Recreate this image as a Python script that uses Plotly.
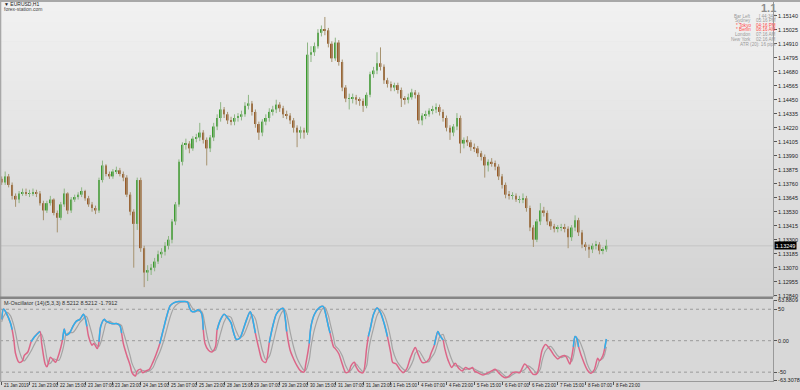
import plotly.graph_objects as go

# ---------------- data (2-hour bars, EURUSD H1 chart) ----------------
first_open = 1.1380
closes = [
1.1377,1.1382,1.1375,1.1366,1.1363,1.1368,1.1369,1.1368,1.1368,1.1369,
1.1368,1.1360,1.1354,1.1360,1.1363,1.1352,1.1348,1.1359,1.1368,1.1354,
1.1363,1.1365,1.1367,1.1370,1.1364,1.1359,1.1356,1.1354,1.1379,1.1391,
1.1384,1.1382,1.1386,1.1387,1.1384,1.1381,1.1367,1.1353,1.1343,1.1379,
1.1323,1.1303,1.1305,1.1307,1.1312,1.1318,1.1320,1.1325,1.1330,1.1345,
1.1359,1.1394,1.1408,1.1409,1.1405,1.1413,1.1414,1.1418,1.1412,1.1405,
1.1414,1.1423,1.1430,1.1437,1.1433,1.1428,1.1427,1.1430,1.1431,1.1433,
1.1440,1.1442,1.1435,1.1425,1.1418,1.1427,1.1430,1.1435,1.1437,1.1441,
1.1438,1.1433,1.1432,1.1428,1.1422,1.1418,1.1420,1.1418,1.1482,1.1484,
1.1489,1.1500,1.1503,1.1502,1.1491,1.1479,1.1492,1.1476,1.1455,1.1446,
1.1446,1.1447,1.1445,1.1444,1.1440,1.1449,1.1466,1.1469,1.1475,1.1472,
1.1461,1.1458,1.1455,1.1457,1.1453,1.1446,1.1445,1.1447,1.1451,1.1449,
1.1428,1.1432,1.1433,1.1436,1.1437,1.1439,1.1435,1.1430,1.1422,1.1418,
1.1423,1.1430,1.1409,1.1412,1.1410,1.1406,1.1405,1.1401,1.1398,1.1391,
1.1394,1.1393,1.1390,1.1382,1.1375,1.1367,1.1366,1.1366,1.1363,1.1363,
1.1364,1.1356,1.1340,1.1330,1.1345,1.1354,1.1352,1.1345,1.1341,1.1339,
1.1340,1.1340,1.1339,1.1332,1.1340,1.1346,1.1336,1.1326,1.1324,1.1322,
1.1325,1.1326,1.1321,1.1322,1.1325]
highs = [
1.1382,1.1386,1.1384,1.1377,1.1368,1.1370,1.1372,1.1372,1.1371,1.1372,
1.1371,1.1370,1.1362,1.1362,1.1366,1.1364,1.1354,1.1361,1.1372,1.1369,
1.1365,1.1367,1.1369,1.1373,1.1371,1.1366,1.1361,1.1358,1.1381,1.1395,
1.1392,1.1386,1.1388,1.1390,1.1389,1.1386,1.1383,1.1369,1.1355,1.1381,
1.1381,1.1325,1.1309,1.1310,1.1315,1.1321,1.1323,1.1328,1.1333,1.1347,
1.1361,1.1396,1.1410,1.1413,1.1411,1.1415,1.1417,1.1426,1.1420,1.1414,
1.1416,1.1426,1.1433,1.1443,1.1439,1.1435,1.1431,1.1433,1.1434,1.1436,
1.1443,1.1449,1.1444,1.1437,1.1427,1.1429,1.1433,1.1438,1.1440,1.1445,
1.1443,1.1440,1.1436,1.1434,1.1430,1.1424,1.1423,1.1422,1.1492,1.1489,
1.1492,1.1503,1.1506,1.1513,1.1504,1.1493,1.1496,1.1494,1.1478,1.1457,
1.1450,1.1450,1.1449,1.1447,1.1446,1.1451,1.1468,1.1472,1.1484,1.1488,
1.1474,1.1463,1.1460,1.1459,1.1459,1.1455,1.1448,1.1450,1.1454,1.1453,
1.1451,1.1434,1.1436,1.1438,1.1440,1.1442,1.1441,1.1437,1.1432,1.1424,
1.1425,1.1434,1.1432,1.1414,1.1415,1.1412,1.1409,1.1407,1.1403,1.1400,
1.1396,1.1397,1.1395,1.1392,1.1384,1.1377,1.1370,1.1369,1.1368,1.1366,
1.1368,1.1366,1.1358,1.1342,1.1347,1.1360,1.1357,1.1354,1.1347,1.1343,
1.1342,1.1343,1.1343,1.1341,1.1342,1.1350,1.1348,1.1338,1.1328,1.1326,
1.1327,1.1329,1.1328,1.1324,1.1330]
lows = [
1.1375,1.1375,1.1373,1.1363,1.1357,1.1360,1.1366,1.1366,1.1365,1.1366,
1.1365,1.1358,1.1346,1.1352,1.1358,1.1350,1.1336,1.1346,1.1357,1.1351,
1.1352,1.1361,1.1363,1.1365,1.1362,1.1357,1.1353,1.1351,1.1352,1.1377,
1.1382,1.1380,1.1380,1.1384,1.1382,1.1378,1.1365,1.1350,1.1307,1.1338,
1.1320,1.1291,1.1296,1.1301,1.1304,1.1310,1.1315,1.1317,1.1322,1.1327,
1.1342,1.1357,1.1391,1.1404,1.1401,1.1403,1.1410,1.1411,1.1409,1.1391,
1.1402,1.1411,1.1420,1.1427,1.1430,1.1425,1.1424,1.1424,1.1427,1.1428,
1.1431,1.1437,1.1432,1.1422,1.1412,1.1415,1.1424,1.1427,1.1432,1.1434,
1.1435,1.1430,1.1429,1.1425,1.1418,1.1406,1.1413,1.1413,1.1416,1.1476,
1.1481,1.1487,1.1497,1.1498,1.1488,1.1476,1.1477,1.1473,1.1452,1.1443,
1.1437,1.1442,1.1441,1.1440,1.1435,1.1438,1.1447,1.1463,1.1466,1.1469,
1.1458,1.1455,1.1452,1.1452,1.1450,1.1439,1.1441,1.1442,1.1445,1.1446,
1.1425,1.1424,1.1429,1.1431,1.1433,1.1434,1.1432,1.1427,1.1419,1.1412,
1.1415,1.1420,1.1401,1.1405,1.1407,1.1403,1.1402,1.1398,1.1395,1.1381,
1.1386,1.1390,1.1387,1.1379,1.1372,1.1364,1.1363,1.1363,1.1361,1.1360,
1.1360,1.1353,1.1337,1.1324,1.1328,1.1342,1.1349,1.1342,1.1338,1.1336,
1.1336,1.1337,1.1336,1.1323,1.1329,1.1337,1.1333,1.1323,1.1321,1.1315,
1.1319,1.1322,1.1318,1.1318,1.1320]
bar_hour = list(range(0, 2 * len(closes), 2))
opens = [first_open] + closes[:-1]
current_price = 1.13249

# oscillator (read at key hours)
osc_hour = [0,1,3,5,6,7,8,10,12,13,15,17,19,22,23,25,26,27,28,30,31,33,35,36,37,39,41,43,45,47,48,49,50,52,53,55,56,57,59,60,
62,64,66,68,69,70,72,74,75,77,78,80,81,83,85,87,89,91,93,95,97,99,102,105,107,108,109,111,113,115,116,117,119,121,123,124,126,128,130,132,
133,135,137,139,141,143,144,146,148,150,152,154,156,158,160,162,163,164,166,168,170,172,174,175,177,178,180,183,185,186,188,189,191,192,194,196,198,200,201,203,
204,206,208,210,211,212,214,216,218,220,222,224,225,227,229,231,233,235,237,238,240,242,244,246,247,249,251,252,254,255,257,259,261,263,265,267,269,271,272,274,
277,280,282,284,286,288,290,292,294,296,298,301,303,306,308,310,311,313,316,318,320,322,324,325,327,328,329,330,331,332,335,337,339,341,343,344,346,347,348]
osc_main = [33.9,50.2,42.0,28.4,17.5,1.1,-20.7,-34.4,-31.7,-23.5,-18.0,-1.6,6.6,14.7,-4.4,-37.1,-41.5,-34.4,-26.2,-31.7,-34.4,-20.7,1.1,18.6,9.3,12.0,22.9,31.1,33.9,42.0,36.6,22.9,6.6,-7.1,-4.4,-12.6,-1.6,22.9,33.9,31.1,
28.4,26.8,27.3,24.0,12.0,-4.4,-23.5,-39.9,-50.8,-56.2,-48.0,-45.3,-50.8,-48.0,-45.3,-34.4,-20.7,-4.4,17.5,39.3,55.7,60.1,62.2,62.2,61.2,53.0,47.5,45.9,49.1,43.7,17.5,-4.4,-15.3,-18.0,-9.8,17.5,33.9,42.0,36.6,28.4,
17.5,2.2,3.8,17.5,33.9,45.9,39.3,12.0,-12.6,-31.7,-34.4,-3.0,22.9,42.0,49.1,51.3,39.3,14.7,-15.3,-29.0,-39.9,-48.0,-49.7,-37.1,-4.4,22.9,42.0,53.0,54.6,47.5,22.9,12.0,-9.8,-12.6,-20.7,-37.1,-50.8,-48.0,-39.9,-34.4,
-41.5,-49.7,-50.8,-12.6,6.6,17.5,42.0,51.9,44.8,28.4,6.6,-20.7,-34.4,-37.1,-45.3,-50.8,-45.3,-28.9,-15.3,-10.9,-23.5,-34.4,-34.4,-28.9,-20.7,-7.1,14.7,9.3,1.1,-12.6,-31.7,-42.6,-36.0,-43.7,-48.0,-42.6,-45.3,-42.6,-48.0,-50.8,
-54.6,-50.8,-48.0,-45.3,-50.8,-56.2,-59.0,-56.2,-50.8,-49.7,-51.0,-37.1,-42.6,-53.5,-52.4,-28.9,-15.3,-6.0,-15.3,-23.5,-28.9,-25.1,-23.5,-26.2,-37.1,-26.2,-9.8,6.6,3.8,-9.8,-34.4,-46.4,-51.9,-46.4,-27.8,-31.7,-23.5,-12.6,2.7]
osc_signal = [30,38,45,40,33,24,12,-15,-30,-32,-25,-16,-5,9,10,-12,-28,-37,-36,-29,-30,-31,-16,-4,10,13,13,20,29,35,39,38,30,10,0,-8,-9,-3,18,28,
31,28,27,26,24,14,-5,-25,-36,-48,-53,-49,-47,-49,-48,-43,-30,-18,-2,18,38,52,60,62,62,60,55,48,47,47,40,25,-2,-15,-15,-8,12,30,39,37,
30,15,5,8,20,35,42,35,10,-15,-30,-25,-5,18,38,48,49,42,14,-10,-28,-39,-47,-47,-30,-10,18,43,52,53,40,28,5,-8,-14,-24,-40,-49,-47,-39,
-37,-44,-49,-40,-20,-3,20,40,49,42,26,2,-14,-30,-39,-45,-49,-42,-30,-20,-16,-24,-33,-33,-28,-20,-3,6,10,3,-14,-30,-40,-40,-44,-46,-44,-44,-45,-48,
-52,-53,-50,-47,-47,-52,-57,-58,-54,-51,-50,-46,-40,-46,-52,-45,-32,-16,-9,-16,-24,-27,-25,-24,-28,-33,-25,-10,2,2,-18,-37,-48,-50,-40,-32,-28,-22,-10]
blue_spans = [(0,6),(17,22),(35,49),(56,69),(91,116),(124,146),(154,164),(177,189),(211,222),(249,254),(329,332),(347,348)]
osc_levels = [50, 0, -50]

price_ticks = [1.12840,1.12955,1.13070,1.13185,1.13300,1.13415,1.13530,1.13645,1.13760,1.13875,1.13990,
               1.14105,1.14220,1.14335,1.14450,1.14565,1.14680,1.14795,1.14910,1.15025,1.15140]
time_labels = ["21 Jan 2019","21 Jan 23:00","22 Jan 15:00","23 Jan 07:00","23 Jan 23:00","24 Jan 15:00",
               "25 Jan 07:00","25 Jan 23:00","28 Jan 15:00","29 Jan 07:00","29 Jan 23:00","30 Jan 15:00",
               "31 Jan 07:00","31 Jan 23:00","1 Feb 15:00","4 Feb 07:00","4 Feb 23:00","5 Feb 15:00",
               "6 Feb 07:00","6 Feb 23:00","7 Feb 15:00","8 Feb 07:00","8 Feb 23:00"]
time_label_hour = [16 * i for i in range(len(time_labels))]
osc_tick_vals = [-63.3078, -50, 0, 50, 63.8809]
osc_tick_text = ["-63.3078", "-50", "0.00", "50", "63.8809"]

# ---------------- layout helpers ----------------
W, H = 800, 390
def px(x): return x / W
def py(y): return 1 - y / H
FONT = "Liberation Sans, Arial, sans-serif"
XR = [-0.98, 443.9]
XDOM = [0, px(773)]
MIN_BODY = 0.00003  # minimal visible body height (doji)

fig = go.Figure()

# candles: wicks + bodies, split by direction
for up, wick_col, body_col in [(True, "#8db583", "#3a9c2e"), (False, "#a6926f", "#985a2a")]:
    wx, wy, bx, bb, bh = [], [], [], [], []
    for h, o, hi, lo, c in zip(bar_hour, opens, highs, lows, closes):
        if (c >= o) != up:
            continue
        wx += [h, h, None]
        wy += [lo, hi, None]
        bx.append(h)
        bb.append(min(o, c))
        bh.append(max(abs(c - o), MIN_BODY))
    fig.add_trace(go.Scatter(x=wx, y=wy, mode="lines", line=dict(color=wick_col, width=1),
                             xaxis="x", yaxis="y", hoverinfo="skip", showlegend=False))
    fig.add_trace(go.Bar(x=bx, y=bh, base=bb, width=1.05, marker=dict(color=body_col, line=dict(width=0)),
                         xaxis="x", yaxis="y", hoverinfo="skip", showlegend=False))

# oscillator lines
fig.add_trace(go.Scatter(x=osc_hour, y=osc_signal, mode="lines", xaxis="x2", yaxis="y2",
                         line=dict(color="#a4a4a4", width=1.2, shape="spline", smoothing=0.8),
                         hoverinfo="skip", showlegend=False))
fig.add_trace(go.Scatter(x=osc_hour, y=osc_main, mode="lines", xaxis="x2", yaxis="y2",
                         line=dict(color="#dc6688", width=1.5, shape="spline", smoothing=0.8),
                         hoverinfo="skip", showlegend=False))
for a, b in blue_spans:
    idx = [i for i, h in enumerate(osc_hour) if a <= h <= b]
    fig.add_trace(go.Scatter(x=[osc_hour[i] for i in idx], y=[osc_main[i] for i in idx],
                             mode="lines", xaxis="x2", yaxis="y2",
                             line=dict(color="#2ab4ee", width=1.5, shape="spline", smoothing=0.8),
                             hoverinfo="skip", showlegend=False))

shapes = []
# main panel gradient background
n = 30
top_c, bot_c = (242, 242, 242), (210, 210, 210)
for i in range(n):
    y0 = 2 + (297 - 2) * i / n
    y1 = 2 + (297 - 2) * (i + 1) / n + 0.5
    t = (i + 0.5) / n
    c = tuple(int(round(top_c[k] + (bot_c[k] - top_c[k]) * t)) for k in range(3))
    shapes.append(dict(type="rect", xref="paper", yref="paper", x0=0, x1=1, y0=py(y1), y1=py(y0),
                       line=dict(width=0), fillcolor="rgb(%d,%d,%d)" % c, layer="below"))
# oscillator panel background
shapes.append(dict(type="rect", xref="paper", yref="paper", x0=0, x1=1, y0=py(390), y1=py(297),
                   line=dict(width=0), fillcolor="#d8d8d8", layer="below"))
# borders
shapes.append(dict(type="rect", xref="paper", yref="paper", x0=0, x1=1, y0=py(2), y1=1,
                   line=dict(width=0), fillcolor="#a8a8a8", layer="above"))
shapes.append(dict(type="rect", xref="paper", yref="paper", x0=0, x1=px(1.3), y0=py(381), y1=1,
                   line=dict(width=0), fillcolor="#a8a8a8", layer="above"))
shapes.append(dict(type="rect", xref="paper", yref="paper", x0=0, x1=px(773), y0=py(299), y1=py(296.5),
                   line=dict(width=0), fillcolor="#858585", layer="above"))
# current price line
shapes.append(dict(type="line", xref="paper", yref="y", x0=0, x1=px(773), y0=current_price, y1=current_price,
                   line=dict(color="#c4c4c4", width=1), layer="below"))
# oscillator levels
for lv in osc_levels:
    shapes.append(dict(type="line", xref="paper", yref="y2", x0=0, x1=px(773), y0=lv, y1=lv,
                       line=dict(color="#9a9a9a", width=1, dash="dot"), layer="below"))

ann = []
def txt(x, y, s, size=5.5, color="#333", xanchor="left", **kw):
    ann.append(dict(x=px(x), y=py(y), xref="paper", yref="paper", text=s, showarrow=False,
                    xanchor=xanchor, yanchor="middle", font=dict(family=FONT, size=size, color=color), **kw))

txt(2, 4.3, "▼ EURUSD,H1", size=5, color="#222")
txt(2, 9.4, "forex-station.com", size=5, color="#444")
txt(2, 302.5, "M-Oscillator (14)(5,3,3) 8.5212 8.5212 -1.7912", size=5.5, color="#333")
# info panel
txt(778, 7.6, "<b>1.1</b>", size=11, color="#8c8c8c", xanchor="right")
info = [("Bar Left", "[ 44:34 ]", "#9a9a9a"), ("Sydney", "05:16 PM", "#9a9a9a"),
        ("* Tokyo", "04:16 PM", "#ff4a4a"), ("* Berlin", "08:16 AM", "#ff4a4a"),
        ("London", "07:16 AM", "#9a9a9a"), ("New York", "02:16 AM", "#9a9a9a")]
for i, (a, b, col) in enumerate(info):
    yy = 16.2 + 4.6 * i
    txt(753, yy, a, size=4.6, color=col, xanchor="right")
    txt(778, yy, b, size=4.6, color=col, xanchor="right")
txt(778, 44.0, "ATR (20): 16 pips", size=4.6, color="#9a9a9a", xanchor="right")
# current price tag
ann.append(dict(x=px(774), y=current_price, xref="paper", yref="y", text="1.13249", showarrow=False,
                xanchor="left", yanchor="middle", bgcolor="#000000", borderpad=0.5,
                font=dict(family=FONT, size=5.5, color="#ffffff")))
# time-scale labels placed on the oscillator x axis
for hx, lab in zip(time_label_hour, time_labels):
    ann.append(dict(x=hx, y=py(385.6), xref="x2", yref="paper", text=lab, showarrow=False,
                    xanchor="left", yanchor="middle", xshift=0.5,
                    font=dict(family=FONT, size=4.5, color="#222")))

axis_font = dict(family=FONT, size=5.5, color="#222")
fig.update_layout(
    width=W, height=H, margin=dict(l=0, r=0, t=0, b=0), template="none",
    paper_bgcolor="#d6d6d6", plot_bgcolor="rgba(0,0,0,0)", barmode="overlay",
    shapes=shapes, annotations=ann, showlegend=False,
    xaxis=dict(domain=XDOM, range=XR, anchor="y", showticklabels=False, ticks="", showgrid=False,
               zeroline=False, showline=False, automargin=False),
    yaxis=dict(domain=[py(297), py(2)], range=[1.12829, 1.15253], side="right", anchor="x",
               tickvals=price_ticks, ticktext=["%.5f" % v for v in price_ticks],
               ticks="outside", ticklen=3, tickcolor="#555", tickfont=axis_font, showgrid=False,
               zeroline=False, showline=True, linecolor="#999999", linewidth=1, automargin=False),
    xaxis2=dict(domain=XDOM, range=XR, anchor="y2", tickvals=time_label_hour, showticklabels=False,
                ticks="outside", ticklen=3, tickcolor="#555", showgrid=False, zeroline=False,
                showline=True, linecolor="#999999", linewidth=1, automargin=False),
    yaxis2=dict(domain=[py(381), py(300)], range=[-64.07, 64.7], side="right", anchor="x2",
                tickvals=osc_tick_vals, ticktext=osc_tick_text, ticks="outside", ticklen=3,
                tickcolor="#555", tickfont=axis_font, showgrid=False, zeroline=False,
                showline=True, linecolor="#999999", linewidth=1, automargin=False),
)

fig.write_html("out.html")
